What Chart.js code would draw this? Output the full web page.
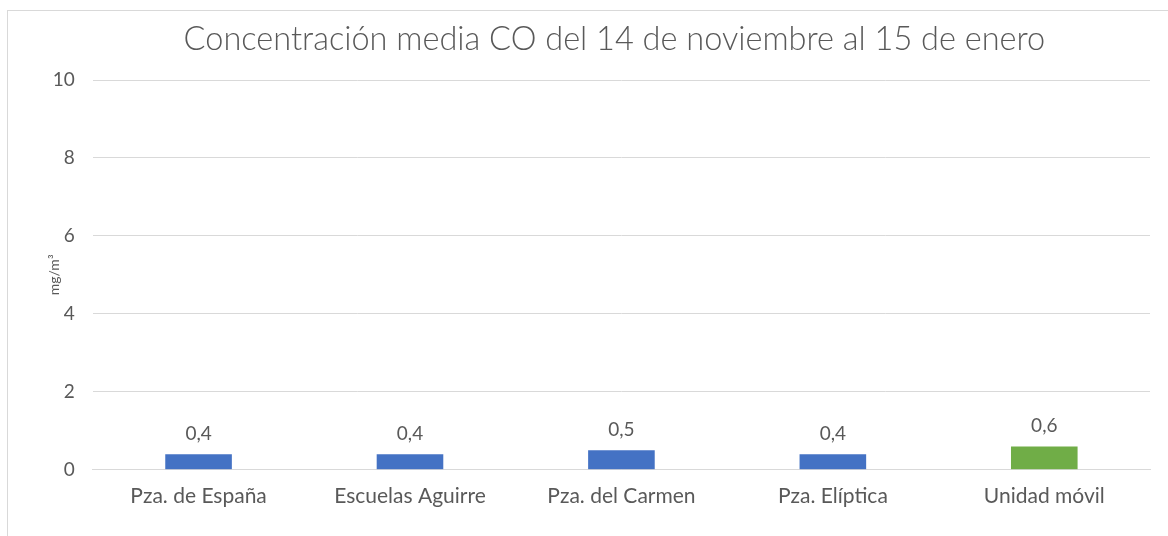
<!DOCTYPE html>
<html>
<head>
<meta charset="utf-8">
<script src="https://cdn.jsdelivr.net/npm/chart.js@4.4.0/dist/chart.umd.min.js"></script>
<style>
  html, body { margin: 0; padding: 0; background: #fff; }
  #wrap { position: relative; width: 1168px; height: 536px; }
  #frame { position: absolute; left: 7px; top: 10px; width: 1170px; height: 540px; border: 1px solid #d9d9d9; box-sizing: border-box; }
  canvas { position: absolute; left: 0; top: 0; }
</style>
</head>
<body>
<div id="wrap">
  <div id="frame"></div>
  <canvas id="grafica" width="1168" height="536"></canvas>
</div>
<script>
const labels = ['Pza. de España', 'Escuelas Aguirre', 'Pza. del Carmen', 'Pza. Elíptica', 'Unidad móvil'];
const values = [0.4, 0.4, 0.5, 0.4, 0.6];
const colors = ['#4472C4', '#4472C4', '#4472C4', '#4472C4', '#70AD47'];
const titleText = 'Concentración media CO del 14 de noviembre al 15 de enero';
const yTitle = 'mg/m³';

// etiquetas de valor encima de cada barra + titulo
const valueLabels = {
    id: 'valueLabels',
    afterDatasetsDraw(chart) {
        const ctx = chart.ctx;
        const meta = chart.getDatasetMeta(0);
        ctx.save();
        ctx.font = '19px Lato';
        ctx.fillStyle = '#595959';
        ctx.textAlign = 'center';
        ctx.textBaseline = 'bottom';
        meta.data.forEach((bar, i) => {
            ctx.fillText(values[i].toFixed(1).replace('.', ','), bar.x, bar.y - 11);
        });
        // titulo
        const area = chart.chartArea;
        ctx.font = '300 32.5px Lato';
        ctx.textBaseline = 'alphabetic';
        ctx.fillText(titleText, (area.left + area.right) / 2 - 7, 50);
        ctx.restore();
    }
};

const graph = document.querySelector('#grafica');
const chart = new Chart(graph, {
    type: 'bar',
    data: {
        labels: labels,
        datasets: [{
            data: values,
            backgroundColor: colors,
            barPercentage: 0.315,
            categoryPercentage: 1
        }]
    },
    options: {
        responsive: false,
        animation: false,
        layout: { padding: { left: 1, right: 18, top: 80, bottom: 21 } },
        plugins: {
            legend: { display: false },
            tooltip: { enabled: false },
            title: { display: false }
        },
        scales: {
            x: {
                grid: { display: false },
                border: { color: '#d9d9d9' },
                ticks: { color: '#595959', font: { family: 'Lato', size: 21 }, padding: 6 }
            },
            y: {
                min: 0,
                max: 10,
                ticks: { stepSize: 2, color: '#595959', font: { family: 'Lato', size: 19 }, padding: 18 },
                grid: { color: '#d9d9d9', drawTicks: false },
                border: { display: false },
                title: {
                    display: true,
                    text: yTitle,
                    color: '#595959',
                    font: { family: 'Lato', size: 14 },
                    padding: { top: 45, bottom: -28 }
                }
            }
        }
    },
    plugins: [valueLabels]
});
</script>
</body>
</html>
